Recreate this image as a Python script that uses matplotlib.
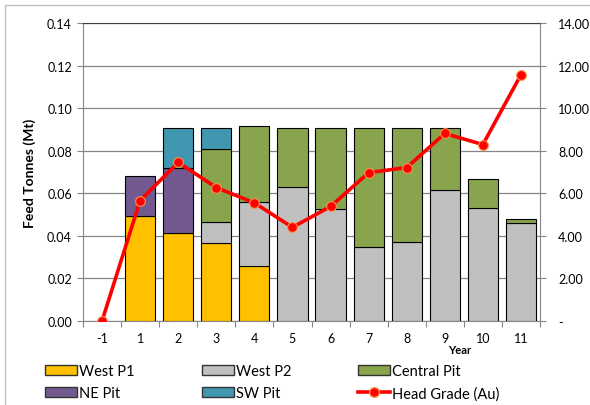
import matplotlib
matplotlib.use("Agg")
import matplotlib.pyplot as plt
import numpy as np
from matplotlib.patches import Patch, Rectangle
from matplotlib.lines import Line2D

plt.rcParams['font.family'] = ['Lato', 'DejaVu Sans']

years = ['-1', '1', '2', '3', '4', '5', '6', '7', '8', '9', '10', '11']
west_p1 = [0, 0.0495, 0.0412, 0.0367, 0.0260, 0, 0, 0, 0, 0, 0, 0]
west_p2 = [0, 0, 0, 0.0100, 0.0298, 0.0630, 0.0527, 0.0350, 0.0373, 0.0616, 0.0531, 0.0462]
central_pit = [0, 0, 0, 0.0342, 0.0356, 0.0279, 0.0382, 0.0559, 0.0536, 0.0293, 0.0134, 0.0016]
ne_pit = [0, 0.0185, 0.0309, 0, 0, 0, 0, 0, 0, 0, 0, 0]
sw_pit = [0, 0, 0.0188, 0.0100, 0, 0, 0, 0, 0, 0, 0, 0]
head_grade = [0.0, 5.66, 7.45, 6.27, 5.55, 4.40, 5.38, 6.97, 7.21, 8.81, 8.29, 11.57]

series = [
    ('West P1', west_p1, '#FFC000'),
    ('West P2', west_p2, '#C0C0C0'),
    ('Central Pit', central_pit, '#88A54E'),
    ('NE Pit', ne_pit, '#725A90'),
    ('SW Pit', sw_pit, '#4197AF'),
]
stack_order = ['West P1', 'NE Pit', 'West P2', 'Central Pit', 'SW Pit']
sdict = {n: (v, c) for n, v, c in series}

W, H = 590, 406
fig = plt.figure(figsize=(W / 100, H / 100), dpi=100)
fig.patch.set_facecolor('white')
fig.patches.append(Rectangle((5 / W, -0.05), 1.1, (H - 6) / H + 0.05, transform=fig.transFigure,
                             fill=False, edgecolor='#BFBFBF', linewidth=1.0))

ax = fig.add_axes([83 / W, (H - 322) / H, 457 / W, 298 / H])
x = np.arange(len(years))
bottom = np.zeros(len(years))
handles = {}
for name in stack_order:
    v, c = sdict[name]
    v = np.array(v)
    mask = v > 0
    ax.bar(x[mask], v[mask], bottom=bottom[mask], width=0.79, color=c,
           edgecolor='black', linewidth=0.8, zorder=3)
    bottom += v
    handles[name] = Patch(facecolor=c, edgecolor='#333333', linewidth=1.0)

ax.set_xlim(-0.5, len(years) - 0.5)
ax.set_ylim(0, 0.14)
ax.set_yticks(np.arange(0, 0.141, 0.02))
ax.set_yticklabels([f'{t:.2f}' for t in np.arange(0, 0.141, 0.02)], fontsize=9)
ax.yaxis.grid(True, color='#868686', linewidth=0.9, zorder=0)
ax.set_axisbelow(True)
ax.set_xticks(np.arange(-0.5, len(years), 1.0))
ax.set_xticklabels([])
ax.set_xticks(x, minor=True)
ax.set_xticklabels(years, minor=True, fontsize=9)
ax.tick_params(axis='x', which='minor', length=0, pad=8)
ax.tick_params(axis='x', which='major', length=4, color='#868686', direction='out')
ax.tick_params(axis='y', length=4, color='#868686', direction='out', pad=4)
for s in ['left', 'right', 'bottom']:
    ax.spines[s].set_color('#868686')
ax.spines['top'].set_color('#404040')
ax.set_ylabel('Feed Tonnes (Mt)', fontsize=10, fontweight='bold', labelpad=8)

ax2 = ax.twinx()
ax2.plot(x, head_grade, color='#FF0000', linewidth=2.6, marker='o', markersize=7,
         markerfacecolor='#FF0000', markeredgecolor='#F79646', markeredgewidth=0.8, zorder=5)
ax2.set_ylim(0, 14)
yt = np.arange(0, 14.01, 2)
ax2.set_yticks(yt)
ax2.set_yticklabels(['-'] + [f'{t:.2f}' for t in yt[1:]], fontsize=9)
ax2.tick_params(axis='y', length=4, color='#868686', direction='out', pad=9)
for s in ['left', 'right', 'bottom', 'top']:
    ax2.spines[s].set_visible(False)
ax2.set_xlim(-0.5, len(years) - 0.5)

fig.text(460 / W, 1 - 351 / H, 'Year', fontsize=8, fontweight='bold', ha='center', va='center')

line_handle = Line2D([], [], color='#FF0000', linewidth=2.6, marker='o', markersize=7,
                     markerfacecolor='#FF0000', markeredgecolor='#F79646')
cols = [
    (45, ['West P1', 'NE Pit']),
    (202, ['West P2', 'SW Pit']),
    (358, ['Central Pit', 'Head Grade (Au)']),
]
for xpx, names in cols:
    hs = [handles[n] if n in handles else line_handle for n in names]
    fig.legend(hs, names, loc='upper left', bbox_to_anchor=(xpx / W, 1 - 365 / H),
               frameon=False, fontsize=10.5, handlelength=2.2, handleheight=0.7,
               handletextpad=0.1, labelspacing=0.55, borderpad=0, borderaxespad=0)

fig.savefig('out.png', dpi=100)
